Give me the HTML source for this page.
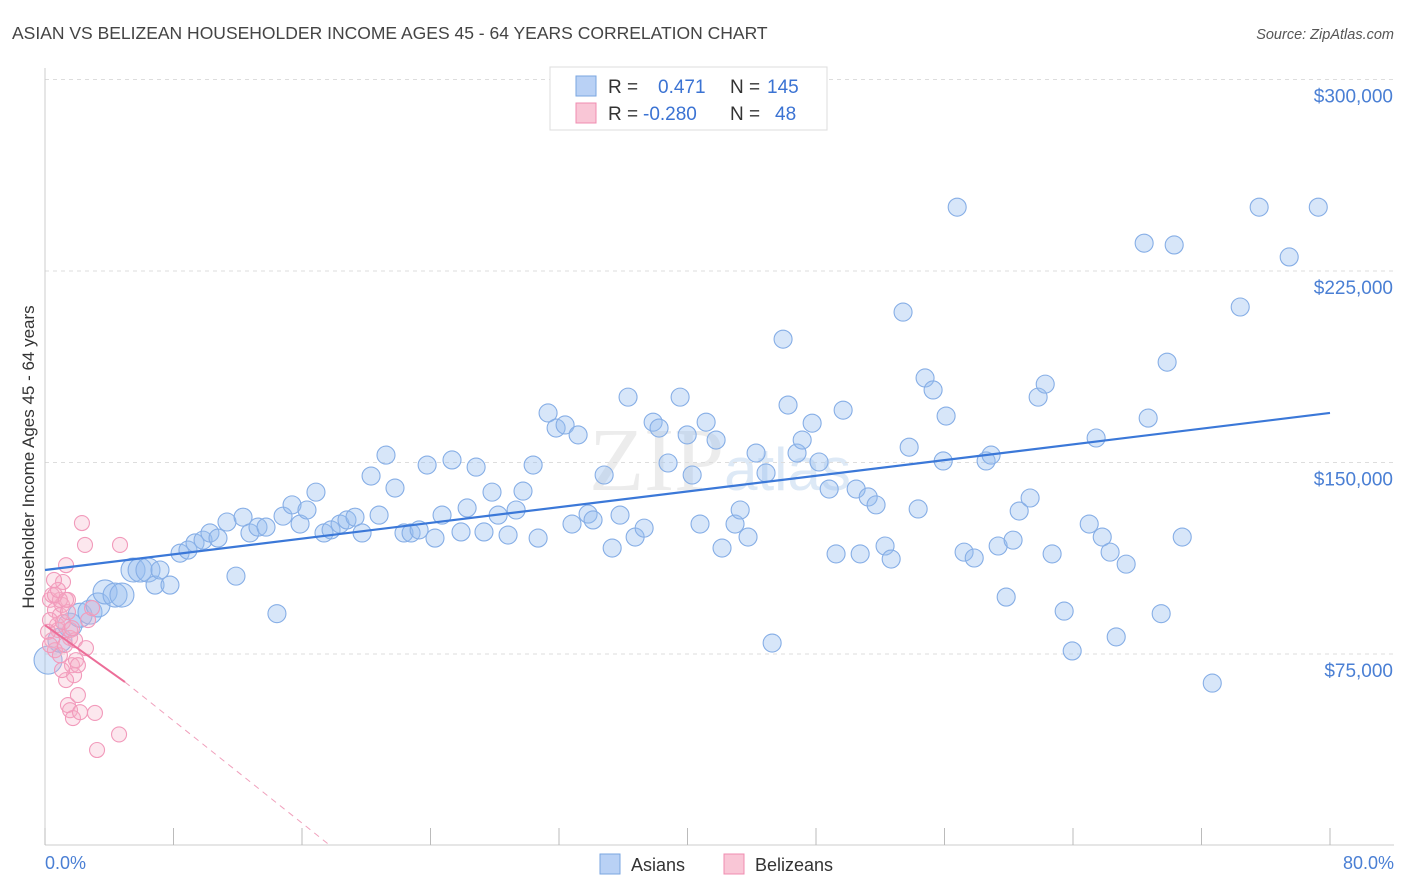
<!DOCTYPE html>
<html><head><meta charset="utf-8"><style>
body{margin:0;background:#fff;font-family:"Liberation Sans",sans-serif;}
svg{display:block}
</style></head><body>
<svg id="c" width="1406" height="892">
<text x="12" y="39" font-size="17.5" fill="#444">ASIAN VS BELIZEAN HOUSEHOLDER INCOME AGES 45 - 64 YEARS CORRELATION CHART</text>
<text x="1394" y="39" font-size="14.5" fill="#555" font-style="italic" text-anchor="end">Source: ZipAtlas.com</text>
<text x="720" y="490" font-size="90" fill="#ececec" text-anchor="middle" font-family="Liberation Serif">ZIP<tspan font-size="60" fill="#dde9f6" font-family="Liberation Sans">atlas</tspan></text>
<text transform="translate(34,457) rotate(-90)" font-size="17" fill="#333" text-anchor="middle">Householder Income Ages 45 - 64 years</text>
<g id="grid"></g><g id="pts"></g><g id="lines"></g>
<text x="45" y="869" font-size="18" fill="#4a7fd4">0.0%</text>
<text x="1394" y="869" font-size="18" fill="#4a7fd4" text-anchor="end">80.0%</text>
<g>
<rect x="550" y="67" width="277" height="63" fill="#fff" stroke="#ddd"/>
<rect x="576" y="76" width="20" height="20" fill="#b9d1f5" stroke="#7aa6e0"/>
<rect x="576" y="103" width="20" height="20" fill="#f9c6d6" stroke="#f08cb0"/>
<text x="608" y="93" font-size="19" fill="#333">R = <tspan fill="#3b73d3" x="658">0.471</tspan><tspan x="730">N = </tspan><tspan fill="#3b73d3" x="767">145</tspan></text>
<text x="608" y="120" font-size="19" fill="#333">R = <tspan fill="#3b73d3" x="643">-0.280</tspan><tspan x="730">N = </tspan><tspan fill="#3b73d3" x="775">48</tspan></text>
</g>
<g>
<rect x="600" y="854" width="20" height="20" fill="#b9d1f5" stroke="#7aa6e0"/>
<text x="631" y="871" font-size="18" fill="#333">Asians</text>
<rect x="724" y="854" width="20" height="20" fill="#f9c6d6" stroke="#f08cb0"/>
<text x="755" y="871" font-size="18" fill="#333">Belizeans</text>
</g>
</svg>
<script>
const yTicks=[75,150,225,300];
const yTickLabels=["$75,000","$150,000","$225,000","$300,000"];
const asianX=[0.19,0.93,1.56,2.18,2.8,3.3,3.74,4.36,4.79,5.48,5.92,6.41,6.85,7.16,7.78,8.41,8.9,9.34,9.84,10.27,10.77,11.33,11.89,12.33,12.76,13.26,13.76,14.44,14.82,15.38,15.88,16.31,16.87,17.37,17.81,18.37,18.8,19.3,19.74,20.3,20.8,21.23,21.79,22.35,22.79,23.29,23.79,24.28,24.72,25.34,25.9,26.28,26.84,27.33,27.83,28.21,28.83,29.33,29.76,30.39,30.7,31.32,31.82,32.38,32.81,33.19,33.81,34.12,34.81,35.31,35.8,36.3,36.74,37.3,37.86,38.23,38.79,39.54,39.98,40.29,40.78,41.16,41.78,42.15,42.96,43.28,43.77,44.27,44.89,45.27,45.95,46.26,46.82,47.14,47.76,48.19,48.82,49.25,49.69,50.5,50.75,51.25,51.74,52.3,52.68,53.42,53.8,54.36,54.79,55.29,55.92,56.1,56.79,57.22,57.85,58.59,58.9,59.34,59.84,60.27,60.65,61.33,61.83,62.27,62.7,63.45,63.95,65.01,65.44,65.82,66.31,66.69,67.31,68.43,68.68,69.49,69.86,70.3,70.8,72.67,74.41,75.59,77.46,79.27];
const asianY=[72.6,80.4,86.3,90.2,91.4,94.2,99.3,98.1,98.1,107.9,107.9,107.9,102,107.9,102,114.5,115.7,118.5,119.6,122.4,120.4,126.7,105.5,128.6,122.4,124.7,124.7,90.8,129,133.4,125.9,131.4,138.4,122.4,123.6,125.9,127.5,128.6,122.4,144.7,129.4,152.9,140,122.4,122.4,123.6,149,120.4,129.4,151,122.8,132.2,148.2,122.8,138.4,129.4,121.6,131.4,138.8,149,120.4,169.4,163.5,164.7,125.9,160.8,129.8,127.5,145.1,116.5,129.4,175.6,120.8,124.3,165.8,163.5,149.8,175.6,160.8,145.1,125.9,165.8,158.8,116.5,125.9,131.4,120.8,153.7,145.9,79.3,198.3,172.5,153.7,158.8,165.4,150.2,139.6,114.2,170.5,139.6,114.2,136.5,133.4,117.3,112.2,208.9,156,131.8,183.1,178.4,150.6,168.2,250,114.9,112.6,150.6,152.9,117.3,97.3,119.6,131,136.1,175.6,180.7,114.2,91.8,76.2,125.9,159.6,120.8,114.9,81.7,110.2,235.9,167.4,90.8,189.3,235.2,120.8,63.6,210.9,250,230.5,250];
const belizeanX=[0.31,0.44,0.62,0.75,0.81,0.93,1.06,0.31,0.44,0.62,0.93,1.12,1.31,1.43,1.56,1.68,1.81,1.93,2.05,2.3,2.49,1.31,1.43,1.56,1.74,2.05,2.18,3.11,3.24,4.67,4.61,1.25,1.56,1.87,0.93,0.62,0.81,1.12,1.43,1.68,2.55,2.68,2.93,0.19,0.31,0.56,1.31,1.06];
const belizeanY=[96.2,98.1,92.2,86.3,84.4,90.2,94.2,88.3,80.4,76.5,74.5,103.2,109.8,96.2,81.3,70.6,66.7,72.6,70.6,126.3,117.7,64.8,55,53,49.9,58.9,52.2,51.9,37.4,117.7,43.5,78.5,84.4,80.4,96.2,98.1,100.1,87.5,91.4,85.1,77.3,88.3,93,83.7,78.5,104,96.2,68.7];
const asianTrend=[107.9,169.4];
const belizeanTrend=[86.3,64];
const belizeanTrendEndX=4.98;
const belizeanZeroX=17.75;
const X0=45,X1=1330,YB=845.5;
const xs=v=>X0+(v/80)*(X1-X0);
const ys=v=>YB-v/75*191.5;
const NS="http://www.w3.org/2000/svg";
function mk(tag,at,parent){const e=document.createElementNS(NS,tag);for(const k in at)e.setAttribute(k,at[k]);parent.appendChild(e);return e;}
const grid=document.getElementById('grid');
yTicks.forEach((t,i)=>{
 const l=mk('line',{x1:45,x2:1394,y1:ys(t),y2:ys(t),stroke:'#ddd','stroke-dasharray':'4,4'},grid);
 
 
 const tx=mk('text',{x:1393,y:ys(t)+23,'font-size':19,fill:'#4a7fd4','text-anchor':'end'},grid);
 tx.textContent=yTickLabels[i];
 
 
});
const ax=mk('line',{x1:45,x2:45,y1:68,y2:845,stroke:'#ccc'},grid);


const bx=mk('line',{x1:45,x2:1394,y1:845,y2:845,stroke:'#ccc'},grid);


for(let i=0;i<=10;i++){const t=mk('line',{x1:xs(i*8),x2:xs(i*8),y1:828,y2:845,stroke:'#bbb'},grid);
 
 }
const pts=document.getElementById('pts');
asianX.forEach((v,i)=>{const r=i<12?(i===0?14:12):9;
 const c=mk('circle',{cx:xs(v),cy:ys(asianY[i]),r:r,fill:'rgba(150,188,238,0.38)',stroke:'#86aee6','stroke-width':1.1},pts);
 
 });
belizeanX.forEach((v,i)=>{
 const c=mk('circle',{cx:xs(v),cy:ys(belizeanY[i]),r:7.5,fill:'rgba(245,175,200,0.3)',stroke:'#f29abb','stroke-width':1.1},pts);
 
 });
const lines=document.getElementById('lines');
const la=mk('line',{x1:xs(0),y1:ys(asianTrend[0]),x2:xs(80),y2:ys(asianTrend[1]),stroke:'#3b78d8','stroke-width':2.2},lines);


const lb=mk('line',{x1:xs(0),y1:ys(belizeanTrend[0]),x2:xs(belizeanTrendEndX),y2:ys(belizeanTrend[1]),stroke:'#ec6d98','stroke-width':2},lines);


const ld=mk('line',{x1:xs(belizeanTrendEndX),y1:ys(belizeanTrend[1]),x2:xs(belizeanZeroX),y2:ys(0),stroke:'#f0a0bc','stroke-width':1,'stroke-dasharray':'6,5'},lines);


</script>
</body></html>
